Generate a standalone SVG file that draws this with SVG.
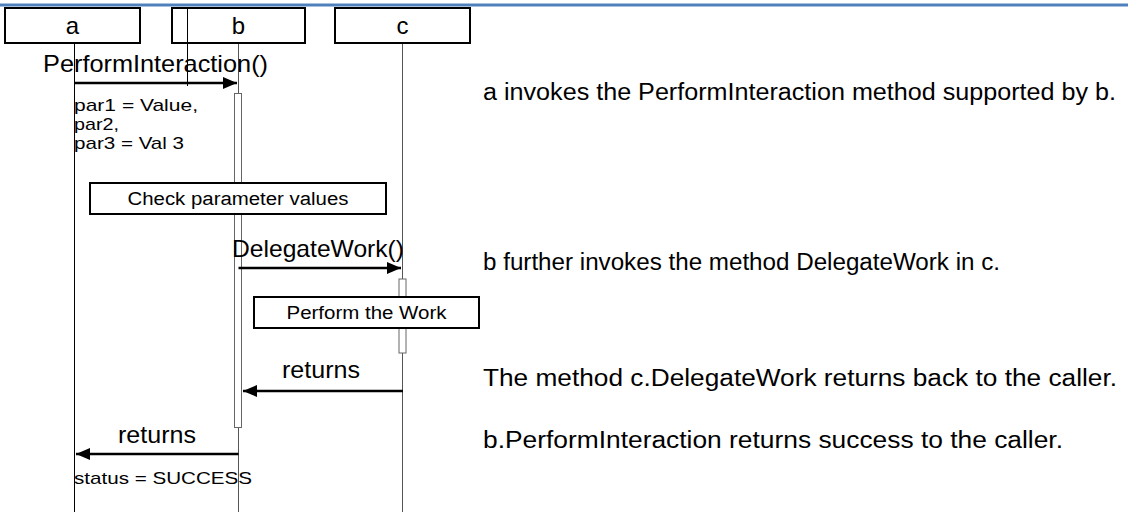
<svg xmlns="http://www.w3.org/2000/svg" width="1131" height="512" viewBox="0 0 1131 512">
  <defs>
    <marker id="head" viewBox="0 0 14 12" refX="14" refY="6" markerWidth="14" markerHeight="12" markerUnits="userSpaceOnUse" orient="auto">
      <path d="M0,0 L14,6 L0,12 Z" fill="#000"/>
    </marker>
    <style>
      text { font-family: "Liberation Sans", Arial, sans-serif; fill: #000; }
      .obj { fill: #fff; stroke: #000; stroke-width: 2; }
      .name { font-size: 24px; text-anchor: middle; }
      .life { stroke: #555; stroke-width: 1; fill: none; }
      .lifeA { stroke: #000; stroke-width: 1; fill: none; }
      .act { fill: #fff; stroke: #666; stroke-width: 1; }
      .msg { stroke: #000; stroke-width: 2.5; fill: none; marker-end: url(#head); }
      .big { font-size: 24px; }
      .small { font-size: 17px; }
      .note { font-size: 23px; }
      .step { fill: #fff; stroke: #000; stroke-width: 2; }
      .stepText { font-size: 18px; text-anchor: middle; }
    </style>
  </defs>

  <rect width="1131" height="512" fill="#fff"/>
  <!-- page header rule -->
  <line x1="0" y1="5" x2="1128" y2="5" stroke="#4f81bd" stroke-width="3"/>

  <!-- lifelines -->
  <g id="lifelines">
    <line class="lifeA" x1="74.5" y1="43" x2="74.5" y2="512"/>
    <line class="life" x1="238.5" y1="43" x2="238.5" y2="512"/>
    <line class="life" x1="402.5" y1="43" x2="402.5" y2="512"/>
  </g>

  <!-- participants -->
  <g id="node-a">
    <rect class="obj" x="5" y="8" width="135" height="35"/>
    <text class="name" x="72.5" y="34">a</text>
  </g>
  <g id="node-b">
    <rect class="obj" x="172" y="8" width="133" height="35"/>
    <line x1="187.5" y1="8" x2="187.5" y2="86" stroke="#000" stroke-width="1"/>
    <text class="name" x="238.5" y="34">b</text>
  </g>
  <g id="node-c">
    <rect class="obj" x="335" y="8" width="135" height="35"/>
    <text class="name" x="402.5" y="34">c</text>
  </g>

  <!-- activation bars -->
  <g id="activation-b">
    <rect class="act" x="234.5" y="93.5" width="7" height="334"/>
  </g>
  <g id="activation-c">
    <rect class="act" x="399" y="279" width="7" height="74"/>
  </g>

  <!-- messages -->
  <g id="connectors">
    <line class="msg" x1="74.5" y1="83" x2="237" y2="83"/>
    <line class="msg" x1="238.5" y1="268" x2="401" y2="268"/>
    <line class="msg" x1="403" y1="391" x2="243" y2="391"/>
    <line class="msg" x1="238.5" y1="454" x2="76" y2="454"/>
  </g>

  <!-- message labels -->
  <g id="labels">
    <text class="big" x="43" y="72" textLength="225" lengthAdjust="spacingAndGlyphs">PerformInteraction()</text>
    <text class="small" x="74" y="111" textLength="124" lengthAdjust="spacingAndGlyphs">par1 = Value,</text>
    <text class="small" x="74" y="130" textLength="45" lengthAdjust="spacingAndGlyphs">par2,</text>
    <text class="small" x="74" y="149" textLength="110" lengthAdjust="spacingAndGlyphs">par3 = Val 3</text>
    <text class="big" x="232" y="257" textLength="172" lengthAdjust="spacingAndGlyphs">DelegateWork()</text>
    <text class="big" x="282" y="378" textLength="78" lengthAdjust="spacingAndGlyphs">returns</text>
    <text class="big" x="118" y="443" textLength="78" lengthAdjust="spacingAndGlyphs">returns</text>
    <text class="small" x="74" y="484" textLength="178" lengthAdjust="spacingAndGlyphs">status = SUCCESS</text>
  </g>

  <!-- internal steps -->
  <g id="step-check">
    <rect class="step" x="90" y="183" width="296" height="31"/>
    <text class="stepText" x="238" y="205" textLength="221" lengthAdjust="spacingAndGlyphs">Check parameter values</text>
  </g>
  <g id="step-work">
    <rect class="step" x="254" y="297" width="225" height="31"/>
    <text class="stepText" x="366.5" y="319" textLength="160" lengthAdjust="spacingAndGlyphs">Perform the Work</text>
  </g>

  <!-- explanatory notes -->
  <g id="notes">
    <text class="note" x="483" y="100" textLength="633" lengthAdjust="spacingAndGlyphs">a invokes the PerformInteraction method supported by b.</text>
    <text class="note" x="483" y="270" textLength="517" lengthAdjust="spacingAndGlyphs">b further invokes the method DelegateWork in c.</text>
    <text class="note" x="483" y="386" textLength="634" lengthAdjust="spacingAndGlyphs">The method c.DelegateWork returns back to the caller.</text>
    <text class="note" x="483" y="448" textLength="580" lengthAdjust="spacingAndGlyphs">b.PerformInteraction returns success to the caller.</text>
  </g>
</svg>
